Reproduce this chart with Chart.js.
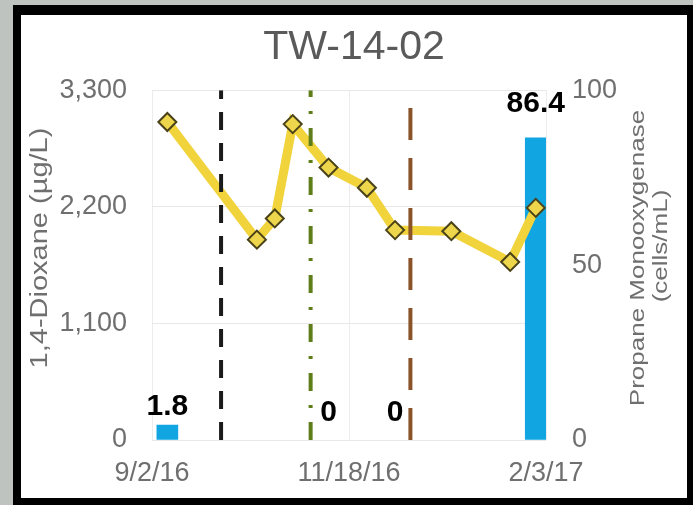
<!DOCTYPE html>
<html>
<head>
<meta charset="utf-8">
<script src="https://cdn.jsdelivr.net/npm/chart.js@4.4.1/dist/chart.umd.min.js"></script>
<style>
  html, body { margin: 0; padding: 0; }
  body { width: 693px; height: 505px; background: #bfc3bf; position: relative; overflow: hidden; }
  #panel {
    position: absolute; left: 13px; top: 5px; width: 666px; height: 483px;
    background: #fff; border-style: solid; border-color: #000;
    border-width: 10px 6px 7px 8px;
  }
  #wrap { position: absolute; left: 0; top: 0; width: 693px; height: 505px; }
</style>
</head>
<body>
<div id="panel"></div>
<div id="wrap"><canvas id="chart" width="693" height="505"></canvas></div>
<script>
const startDate = '2016-09-02';
const sampleDates = ['2016-09-08', '2016-10-13', '2016-10-20', '2016-10-27', '2016-11-10',
                     '2016-11-25', '2016-12-06', '2016-12-28', '2017-01-20', '2017-01-30'];
const dioxane = [3000, 1890, 2090, 2980, 2570, 2380, 1980, 1970, 1680, 2190];
const pmoDates = ['2016-09-08', '2016-11-10', '2016-12-06', '2017-01-30'];
const pmo = [1.8, 0, 0, 86.4];
const eventDates = ['2016-09-29', '2016-11-03', '2016-12-12'];
const eventColors = ['#1a1a1a', '#5f7d18', '#8b532a'];
const eventDashes = [[18, 13], [18, 14, 3, 14], [32, 18]];
const xTickDates = ['2016-09-02', '2016-11-18', '2017-02-03'];
const leftTicks = [0, 1100, 2200, 3300];
const rightTicks = [0, 50, 100];

const dayOf = d => (Date.parse(d) - Date.parse(startDate)) / 86400000;
const fmtDate = d => {
  const t = new Date(Date.parse(startDate) + d * 86400000);
  return (t.getUTCMonth() + 1) + '/' + t.getUTCDate() + '/' + String(t.getUTCFullYear()).slice(2);
};

const FONT = "'Liberation Sans', Arial, sans-serif";
const GRAY = '#6f6f6f';

const datasets = [];
eventDates.forEach((d, i) => {
  datasets.push({
    type: 'line',
    data: [{x: dayOf(d), y: leftTicks[0]}, {x: dayOf(d), y: leftTicks[leftTicks.length - 1]}],
    borderColor: eventColors[i],
    borderWidth: 4,
    borderDash: eventDashes[i],
    pointRadius: 0,
    yAxisID: 'y',
    order: 0
  });
});
datasets.push({
  type: 'line',
  data: sampleDates.map((d, i) => ({x: dayOf(d), y: dioxane[i]})),
  borderColor: '#f1d33c',
  borderWidth: 9,
  tension: 0,
  pointStyle: 'rectRot',
  pointRadius: 9,
  pointBackgroundColor: '#eed64c',
  pointBorderColor: '#4a4218',
  pointBorderWidth: 2,
  yAxisID: 'y',
  order: 1
});
datasets.push({
  type: 'bar',
  data: pmoDates.map((d, i) => ({x: dayOf(d), y: pmo[i]})),
  backgroundColor: ctx => (ctx.raw && ctx.raw.y === 0) ? 'rgba(0,0,0,0)' : '#11a6e2',
  barThickness: 21,
  minBarLength: 15,
  yAxisID: 'y1',
  order: 2
});

const barLabels = {
  id: 'barLabels',
  afterDatasetsDraw(chart) {
    const ctx = chart.ctx;
    const meta = chart.getDatasetMeta(datasets.length - 1);
    const ys = chart.scales.y1;
    ctx.save();
    ctx.font = 'bold 30px ' + FONT;
    ctx.fillStyle = '#000';
    ctx.textAlign = 'center';
    ctx.textBaseline = 'middle';
    meta.data.forEach((el, i) => {
      const top = Math.min(ys.getPixelForValue(pmo[i]), el.y);
      ctx.fillText(String(pmo[i]), el.x, pmo[i] > 50 ? top - 34 : ys.getPixelForValue(pmo[i]) - 27);
    });
    ctx.restore();
  }
};

// rotated axis titles, both reading bottom to top
const axisTitles = {
  id: 'axisTitles',
  afterDraw(chart) {
    const ctx = chart.ctx;
    const yl = chart.scales.y, yr = chart.scales.y1;
    const items = [
      ['1,4-Dioxane (µg/L)', yl.left + 19, 248, 29, 0.85],
      ['Propane Monooxygenase', yr.right - 49, 258, 26, 0.8],
      ['(cells/mL)', yr.right - 26, 246, 26, 0.8]
    ];
    ctx.save();
    ctx.fillStyle = GRAY;
    ctx.textAlign = 'center';
    ctx.textBaseline = 'middle';
    items.forEach(([t, x, y, size, squash]) => {
      ctx.save();
      ctx.font = size + 'px ' + FONT;
      ctx.translate(x, y);
      ctx.rotate(-Math.PI / 2);
      ctx.scale(1, squash);
      ctx.fillText(t, 0, 0);
      ctx.restore();
    });
    ctx.restore();
  }
};

new Chart(document.getElementById('chart'), {
  data: { datasets },
  options: {
    responsive: false,
    animation: false,
    layout: { padding: { left: 21, top: 15, right: 6, bottom: 7 } },
    plugins: {
      legend: { display: false },
      tooltip: { enabled: false },
      title: {
        display: true,
        text: 'TW-14-02',
        color: '#5a5a5a',
        font: { family: FONT, size: 41, weight: 'normal' },
        padding: { top: 8, bottom: 18 }
      }
    },
    scales: {
      x: {
        type: 'linear',
        offset: false,
        min: dayOf(xTickDates[0]),
        max: dayOf(xTickDates[xTickDates.length - 1]),
        afterBuildTicks: s => { s.ticks = xTickDates.map(d => ({value: dayOf(d)})); },
        afterFit: s => { s.height = 58; },
        grid: { color: '#ececec', drawTicks: false, offset: false },
        border: { display: false },
        ticks: {
          padding: 17,
          color: GRAY,
          font: { family: FONT, size: 27 },
          maxRotation: 0,
          callback: v => fmtDate(v)
        }
      },
      y: {
        position: 'left',
        min: leftTicks[0],
        max: leftTicks[leftTicks.length - 1],
        afterBuildTicks: s => { s.ticks = leftTicks.map(v => ({value: v})); },
        afterFit: s => { s.width = 131; },
        grid: { color: '#e8e8e8', drawTicks: false },
        border: { display: false },
        ticks: {
          padding: 25,
          color: GRAY,
          font: { family: FONT, size: 27 },
          callback: v => v.toLocaleString('en-US')
        }
      },
      y1: {
        position: 'right',
        min: rightTicks[0],
        max: rightTicks[rightTicks.length - 1],
        afterBuildTicks: s => { s.ticks = rightTicks.map(v => ({value: v})); },
        afterFit: s => { s.width = 141; },
        grid: { drawOnChartArea: false, drawTicks: false },
        border: { display: false },
        ticks: {
          padding: 26,
          color: GRAY,
          font: { family: FONT, size: 27 }
        }
      }
    }
  },
  plugins: [barLabels, axisTitles]
});
</script>
</body>
</html>
